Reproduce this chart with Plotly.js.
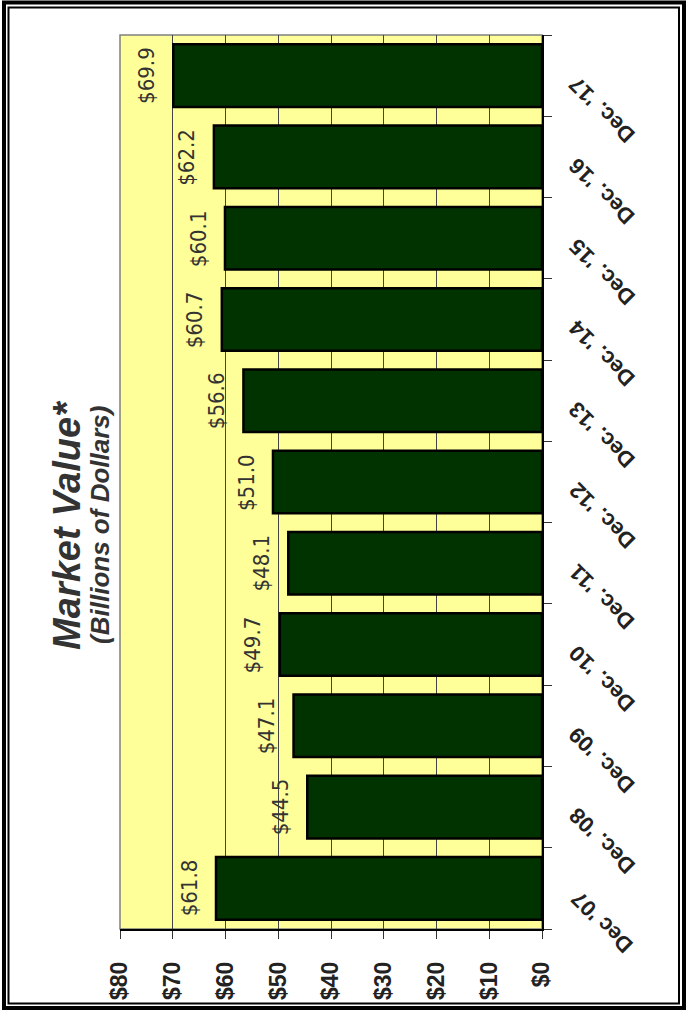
<!DOCTYPE html>
<html>
<head>
<meta charset="utf-8">
<script src="https://cdn.plot.ly/plotly-3.0.1.min.js"></script>
<style>
  html, body { margin: 0; padding: 0; background: #ffffff; }
  #chart { width: 687px; height: 1012px; }
</style>
</head>
<body>
<div id="chart"></div>
<script>
// Year-end market value, billions of dollars
const periods = ["Dec '07", "Dec. '08", "Dec. '09", "Dec. '10", "Dec. '11", "Dec. '12",
                 "Dec. '13", "Dec. '14", "Dec. '15", "Dec. '16", "Dec. '17"];
const marketValue = [61.8, 44.5, 47.1, 49.7, 48.1, 51.0, 56.6, 60.7, 60.1, 62.2, 69.9];
const valueTicks = [0, 10, 20, 30, 40, 50, 60, 70, 80];
const valueTickText = ["$0", "$10", "$20", "$30", "$40", "$50", "$60", "$70", "$80"];
const titleText = "Market Value*";
const subtitleText = "(Billions of Dollars)";

const narrow = "Liberation Sans Narrow, DejaVu Sans Condensed, Arial Narrow, sans-serif";
const sans = "Liberation Sans, Arial, sans-serif";

const bars = {
  type: "bar",
  orientation: "h",
  x: marketValue,
  y: periods,
  marker: { color: "#003300", line: { color: "#000000", width: 2.5 } },
  hoverinfo: "x+y"
};

// value labels sit just past the end of each bar, reading upward
const valueLabels = marketValue.map((v, i) => ({
  x: v, y: periods[i], xref: "x", yref: "y",
  xanchor: "center", yanchor: "middle",
  text: "$" + v.toFixed(1),
  showarrow: false, textangle: -90, xshift: -27,
  font: { family: narrow, size: 22, color: "#333333" }
}));

// slanted period labels to the right of the category axis
const periodLabels = periods.map(p => ({
  x: 1.1422, y: p, xref: "paper", yref: "y",
  xanchor: "center", yanchor: "middle",
  text: p, showarrow: false, textangle: -135, yshift: -34,
  font: { family: sans, size: 22, weight: "bold", color: "#222222" }
}));

const titles = [
  { text: "<b><i>" + titleText + "</i></b>", xref: "paper", yref: "paper",
    x: -0.1256, y: 0.452, xanchor: "center", yanchor: "middle",
    showarrow: false, textangle: -90,
    font: { family: sans, size: 38, color: "#333333" } },
  { text: "<b><i>" + subtitleText + "</i></b>", xref: "paper", yref: "paper",
    x: -0.0474, y: 0.452, xanchor: "center", yanchor: "middle",
    showarrow: false, textangle: -90,
    font: { family: sans, size: 26, color: "#333333" } }
];

// double frame around the whole chart
const frame = [
  { type: "rect", xref: "paper", yref: "paper", x0: -0.27488, x1: 1.33649, y0: -0.08837, y1: 1.03635,
    line: { color: "#000000", width: 4 }, fillcolor: "rgba(0,0,0,0)", layer: "above" },
  { type: "rect", xref: "paper", yref: "paper", x0: -0.26422, x1: 1.32464, y0: -0.08333, y1: 1.03076,
    line: { color: "#000000", width: 2 }, fillcolor: "rgba(0,0,0,0)", layer: "above" },
  { type: "rect", xref: "paper", yref: "paper", x0: 0, x1: 1, y0: 0, y1: 1,
    line: { color: "#808080", width: 1.5 }, fillcolor: "rgba(0,0,0,0)", layer: "below" }
];

const layout = {
  width: 687, height: 1012,
  margin: { l: 120, r: 145, t: 35, b: 83 },
  paper_bgcolor: "#ffffff",
  plot_bgcolor: "#ffff99",
  showlegend: false,
  bargap: 0.23,
  xaxis: {
    range: [80, 0],
    tickvals: valueTicks, ticktext: valueTickText,
    tickangle: -90,
    ticklabelstandoff: 14,
    tickfont: { family: sans, size: 23, weight: "bold", color: "#222222" },
    ticks: "outside", ticklen: 8, tickcolor: "#333333", tickwidth: 1,
    showgrid: true, gridcolor: "#444444", gridwidth: 1,
    showline: true, linecolor: "#000000", linewidth: 1.5,
    zeroline: false, fixedrange: true
  },
  yaxis: {
    side: "right",
    type: "category",
    range: [-0.5, periods.length - 0.5],
    autorange: false,
    showticklabels: false,
    ticks: "outside", ticklen: 8, tickcolor: "#333333", tickwidth: 1,
    tickson: "boundaries",
    showgrid: false,
    showline: true, linecolor: "#000000", linewidth: 1.5,
    fixedrange: true
  },
  annotations: valueLabels.concat(periodLabels, titles),
  shapes: frame
};

Plotly.newPlot("chart", [bars], layout, { displayModeBar: false, staticPlot: true });
</script>
</body>
</html>
